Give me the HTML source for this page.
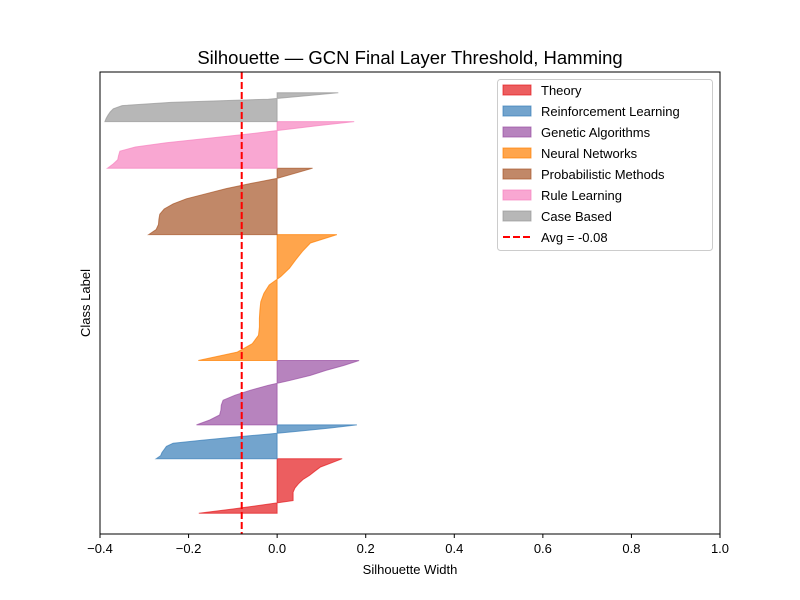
<!DOCTYPE html>
<html><head><meta charset="utf-8"><style>
body{margin:0;background:#fff}
svg{display:block;font-family:"Liberation Sans","DejaVu Sans",sans-serif}
</style></head><body>
<svg id="chart" width="800" height="600" xmlns="http://www.w3.org/2000/svg">
<rect x="0" y="0" width="800" height="600" fill="#fff"/>
<text x="410" y="64" font-size="18.5" text-anchor="middle" fill="#000">Silhouette — GCN Final Layer Threshold, Hamming</text>
<g id="clusters"></g>
<g id="axes"></g>
<text x="410" y="574" font-size="13" text-anchor="middle">Silhouette Width</text>
<text x="90" y="303" font-size="13" text-anchor="middle" transform="rotate(-90 90 303)">Class Label</text>
<g id="legend"></g>
</svg>
<script>
const classNames = ["Theory","Reinforcement Learning","Genetic Algorithms","Neural Networks","Probabilistic Methods","Rule Learning","Case Based"];
const classCounts = [55,34,65,127,67,47,29];
const theoryValues = [0.147,0.123,0.098,0.085,0.073,0.058,0.048,0.04,0.036,0.036,0.036,-0.03,-0.1,-0.177];
const rlValues = [0.18,0.12,0.05,-0.02,-0.1,-0.17,-0.235,-0.25,-0.255,-0.26,-0.263,-0.273];
const gaValues = [0.185,0.15,0.11,0.075,0.03,-0.02,-0.06,-0.095,-0.122,-0.126,-0.127,-0.13,-0.152,-0.182];
const nnValues = [0.135,0.075,0.057,0.042,0.028,0.008,-0.018,-0.03,-0.037,-0.039,-0.04,-0.04,-0.042,-0.056,-0.09,-0.178];
const pmValues = [0.08,0.04,0.0,-0.06,-0.115,-0.16,-0.205,-0.235,-0.255,-0.265,-0.267,-0.268,-0.273,-0.29];
const ruleValues = [0.174,0.09,0.01,-0.07,-0.16,-0.25,-0.32,-0.355,-0.358,-0.36,-0.37,-0.383];
const cbValues = [0.138,0.06,-0.02,-0.24,-0.35,-0.37,-0.377,-0.382,-0.386,-0.389];
const avgScore = -0.08;
const xTicks = [-0.4,-0.2,0.0,0.2,0.4,0.6,0.8,1.0];
const xTickLabels = ["\u22120.4","\u22120.2","0.0","0.2","0.4","0.6","0.8","1.0"];

const seriesValues = [theoryValues,rlValues,gaValues,nnValues,pmValues,ruleValues,cbValues];
const colors = ["#e41a1c","#377eb8","#984ea3","#ff7f00","#a65628","#f781bf","#999999"];
const NS = "http://www.w3.org/2000/svg";
const L=100,R=720,T=72,B=534;
const xMin=-0.4,xMax=1.0;
const total = classCounts.reduce((a,b)=>a+b,0);
const yPad = 21;
const xs = v => L + (v-xMin)/(xMax-xMin)*(R-L);
const ys = v => B - (v+yPad)/(total+2*yPad)*(B-T);
function mk(tag, attrs){const e=document.createElementNS(NS,tag);for(const k in attrs)e.setAttribute(k,attrs[k]);return e;}

const cg=document.getElementById('clusters');
let yLower=0;
seriesValues.forEach((vals,i)=>{
  const yUpper=yLower+classCounts[i];
  const n=vals.length;
  let pts=[[xs(0),ys(yUpper)]];
  vals.forEach((v,j)=>{const yy=yUpper-(j/(n-1))*classCounts[i];pts.push([xs(v),ys(yy)]);});
  pts.push([xs(0),ys(yLower)]);
  const p=mk('polygon',{points:pts.map(p=>p[0].toFixed(1)+','+p[1].toFixed(1)).join(' '),fill:colors[i],'fill-opacity':0.7,stroke:colors[i],'stroke-opacity':0.7,'stroke-width':1});
  
  
  cg.appendChild(p);
  yLower=yUpper;
});

const ag=document.getElementById('axes');
const avg=mk('line',{x1:xs(avgScore),x2:xs(avgScore),y1:T,y2:B,stroke:'#ff0000','stroke-width':2,'stroke-dasharray':'7,3'});


ag.appendChild(avg);
const frame=mk('rect',{x:L,y:T,width:R-L,height:B-T,fill:'none',stroke:'#000','stroke-width':1});


ag.appendChild(frame);
xTicks.forEach((t,i)=>{
  const x=xs(t);
  const tk=mk('line',{x1:x,x2:x,y1:B,y2:B+4,stroke:'#000'});
  
  
  ag.appendChild(tk);
  const tx=mk('text',{x:x,y:B+19,'font-size':13,'text-anchor':'middle'});
  tx.textContent=xTickLabels[i];
  
  
  ag.appendChild(tx);
});

const lg=document.getElementById('legend');
const box=mk('rect',{x:497.5,y:79.5,width:215,height:171,rx:3,fill:'#fff','fill-opacity':0.8,stroke:'#ccc'});


lg.appendChild(box);
classNames.forEach((nm,i)=>{
  const y=90+i*21;
  const r=mk('rect',{x:503,y:y-5,width:28,height:10,fill:colors[i],'fill-opacity':0.7,stroke:colors[i],'stroke-opacity':0.7});
  
  
  lg.appendChild(r);
  const t=mk('text',{x:541,y:y+5,'font-size':13});
  t.textContent=nm;
  
  
  lg.appendChild(t);
});
const ly=90+7*21;
const ll=mk('line',{x1:503,x2:531,y1:ly,y2:ly,stroke:'#ff0000','stroke-width':2,'stroke-dasharray':'7,3'});


lg.appendChild(ll);
const lt=mk('text',{x:541,y:ly+5,'font-size':13});
lt.textContent='Avg = '+avgScore.toFixed(2);


lg.appendChild(lt);
</script>
</body></html>
